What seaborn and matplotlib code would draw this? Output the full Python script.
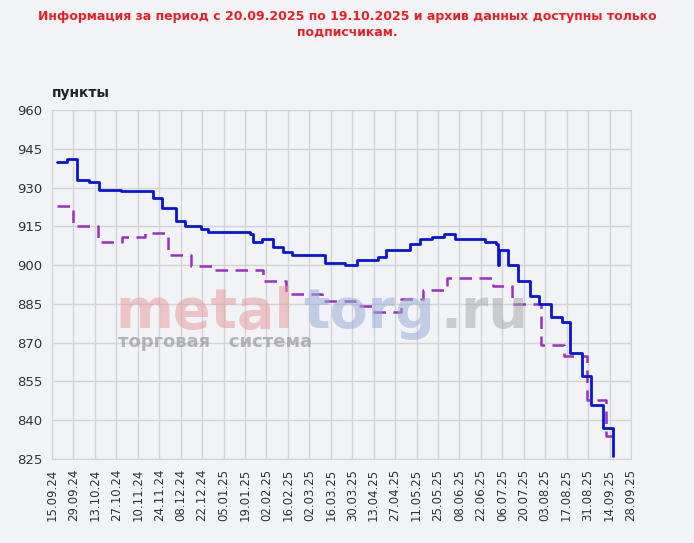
import pandas as pd
import matplotlib.pyplot as plt
import matplotlib.dates as mdates
import seaborn as sns

start = pd.Timestamp('2024-09-15')

# step changes: day offset from 15.09.24, value
blue_days = [3, 10, 16, 24, 31, 45, 66, 72, 81, 87, 97, 102, 129, 131, 137, 144, 151, 157,
             178, 191, 199, 213, 218, 234, 240, 248, 256, 263, 283, 290, 291, 292, 298, 304,
             312, 318, 326, 333, 338, 346, 352, 360, 366]
blue_vals = [940, 941, 933, 932, 929, 928.5, 926, 922, 917, 915, 914, 913, 912, 909, 910, 907,
             905, 904, 901, 900, 902, 903, 906, 908, 910, 911, 912, 910, 909, 908, 900, 906,
             900, 894, 888, 885, 880, 878, 866, 857, 846, 837, 826]
purple_days = [3, 14, 30, 46, 61, 76, 91, 106, 138, 153, 176, 198, 209, 228, 242, 258, 288,
               300, 319, 334, 349, 362, 366]
purple_vals = [923, 915, 909, 911, 912.5, 904, 899.5, 898, 894, 889, 886, 884, 882, 887, 890.5,
               895, 892, 885, 869, 865, 848, 834, 833]

blue = pd.DataFrame({'date': start + pd.to_timedelta(blue_days, unit='D'), 'value': blue_vals})
purple = pd.DataFrame({'date': start + pd.to_timedelta(purple_days, unit='D'), 'value': purple_vals})

sns.set_style('whitegrid')
bg = '#f1f3f6'
fig = plt.figure(figsize=(6.94, 5.43), dpi=100, facecolor=bg)
ax = fig.add_axes([52 / 694, 1 - 459 / 543, 579 / 694, 349 / 543])
ax.set_facecolor(bg)

# watermark behind the lines
wm = dict(fontsize=40, fontweight='bold', alpha=0.55, va='baseline', zorder=0)
fig.text(115 / 694, 1 - 328 / 543, 'metal', color='#e89ca0', **wm)
fig.text(303 / 694, 1 - 328 / 543, 'torg', color='#9aaed6', **wm)
fig.text(440 / 694, 1 - 328 / 543, '.ru', color='#aaaaaa', **wm)
fig.text(118 / 694, 1 - 347 / 543, 'торговая   система', fontsize=13, fontweight='bold',
         color='#999999', alpha=0.7, va='baseline')

ax.step(purple['date'], purple['value'], where='post', color='#9b2fbf', lw=1.8, ls=(0, (5, 3)))
ax.step(blue['date'], blue['value'], where='post', color='#0a14d6', lw=2)

ax.set_ylim(825, 960)
ax.set_yticks(range(825, 961, 15))
ticks = pd.date_range(start, periods=28, freq='14D')
ax.set_xlim(ticks[0], ticks[-1])
ax.set_xticks(ticks)
ax.xaxis.set_major_formatter(mdates.DateFormatter('%d.%m.%y'))
ax.tick_params(axis='x', rotation=90, labelsize=8.5, colors='#333333')
ax.tick_params(axis='y', labelsize=9.5, colors='#333333')
for s in ax.spines.values():
    s.set_color('#d4d4d4')
ax.grid(color='#d4d4d4', lw=1)

fig.text(0.5, 0.955, 'Информация за период с 20.09.2025 по 19.10.2025 и архив данных доступны только\nподписчикам.',
         ha='center', va='center', color='#e8202a', fontsize=9, fontweight='bold')
fig.text(52 / 694, 1 - 97 / 543, 'пункты', fontsize=10, fontweight='bold', color='#222222')

fig.savefig('out.png', dpi=100, facecolor=bg)
